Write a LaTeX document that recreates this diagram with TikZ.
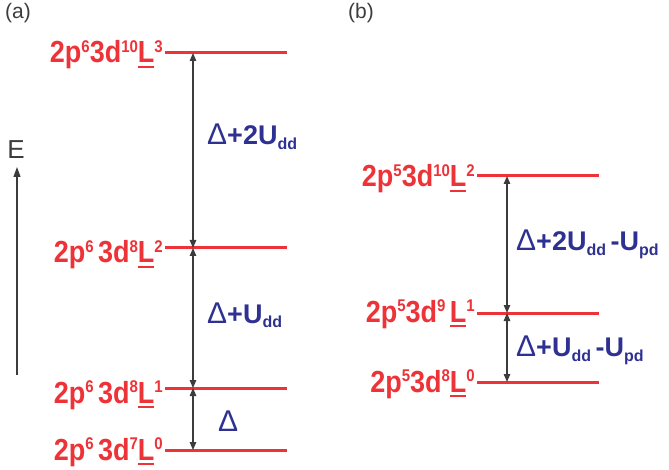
\documentclass[tikz,border=0pt]{standalone}
\usepackage{fontspec}
\usepackage{graphicx}
\setmainfont{Liberation Sans}
\usetikzlibrary{arrows.meta}
\definecolor{lvred}{RGB}{237,50,56}
\definecolor{lblue}{RGB}{46,49,146}
\definecolor{dgray}{RGB}{60,60,60}
\newcommand\sps[1]{\raisebox{9pt}{\fontsize{15}{15}\selectfont #1}}
\newcommand\sbs[1]{\raisebox{-5pt}{\fontsize{16}{16}\selectfont #1}}
\newcommand\uL{\setbox0\hbox{L}\rlap{\rule[-4.5pt]{\wd0}{2pt}}\box0}
\newcommand\dlt{{\mdseries\fontsize{30}{30}\selectfont Δ}}
\newcommand\lev[1]{\scalebox{1}[1.13]{#1}}
\tikzset{
  levtext/.style={font=\fontsize{27}{27}\selectfont\bfseries, text=lvred, inner sep=0pt, anchor=base east},
  levline/.style={draw=lvred, line width=3pt},
  gaparr/.style={draw=dgray, line width=1.2pt, {Triangle[length=8pt,width=6.5pt]}-{Triangle[length=8pt,width=6.5pt]}},
  gaplbl/.style={font=\fontsize{27}{27}\selectfont\bfseries, text=lblue, inner sep=0pt, anchor=base west},
  paneltag/.style={font=\fontsize{21}{21}\selectfont, text=dgray, inner sep=0pt},
}
\begin{document}
\begin{tikzpicture}[x=1pt,y=-1pt]
\useasboundingbox (0,0) rectangle (669,470);
% panel tags
\node[paneltag] (ta) at (18,13) {(a)};
\node[paneltag] (tb) at (361,13) {(b)};
% energy axis
\node[font=\fontsize{26}{26}\selectfont, text=dgray, inner sep=0pt] (E) at (16,150) {E};
\coordinate (Ebot) at (17,375);
\coordinate (Etop) at (17,167);
\draw[draw=dgray, line width=1.2pt, -{Triangle[length=10pt,width=7pt]}] (Ebot) -- (Etop);
% ---------- panel (a) ----------
\foreach \n/\y in {1/53,2/248,3/388,4/450}{
  \coordinate (a\n s) at (165,\y);
  \coordinate (a\n e) at (287,\y);
  \coordinate (a\n x) at (193,\y);
  \draw[levline] (a\n s) -- (a\n e);
}
\node[levtext] (la1) at (163,63) {\lev{2p\sps{6}3d\sps{10}\uL\sps{3}}};
\node[levtext] (la2) at (163,263) {\lev{2p\sps{6}\,3d\sps{8}\uL\sps{2}}};
\node[levtext] (la3) at (163,403) {\lev{2p\sps{6}\,3d\sps{8}\uL\sps{1}}};
\node[levtext] (la4) at (163,460) {\lev{2p\sps{6}\,3d\sps{7}\uL\sps{0}}};
\draw[gaparr] (a1x) -- (a2x);
\draw[gaparr] (a2x) -- (a3x);
\draw[gaparr] (a3x) -- (a4x);
\node[gaplbl] (ga1) at (207,145) {\dlt+2U\sbs{dd}};
\node[gaplbl] (ga2) at (207,323) {\dlt+U\sbs{dd}};
\node[gaplbl] (ga3) at (218,431) {\dlt};
% ---------- panel (b) ----------
\foreach \n/\y in {1/176,2/313,3/382}{
  \coordinate (b\n s) at (477,\y);
  \coordinate (b\n e) at (599,\y);
  \coordinate (b\n x) at (507,\y);
  \draw[levline] (b\n s) -- (b\n e);
}
\node[levtext] (lb1) at (475,187) {\lev{2p\sps{5}3d\sps{10}\uL\sps{2}}};
\node[levtext] (lb2) at (475,322) {\lev{2p\sps{5}3d\sps{9}\,\uL\sps{1}}};
\node[levtext] (lb3) at (475,392) {\lev{2p\sps{5}3d\sps{8}\uL\sps{0}}};
\draw[gaparr] (b1x) -- (b2x);
\draw[gaparr] (b2x) -- (b3x);
\node[gaplbl] (gb1) at (516,251) {\dlt+2U\sbs{dd}\,-U\sbs{pd}};
\node[gaplbl] (gb2) at (516,356) {\dlt+U\sbs{dd}\,-U\sbs{pd}};
\end{tikzpicture}
\end{document}
